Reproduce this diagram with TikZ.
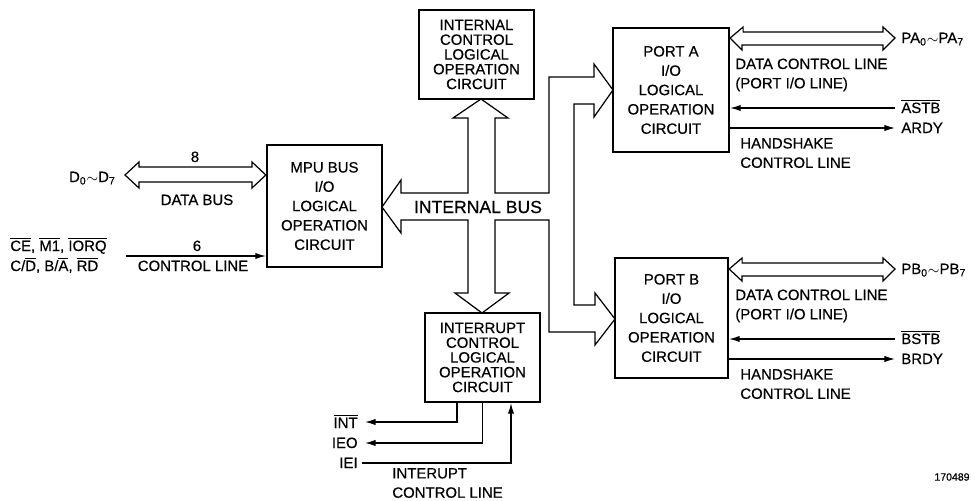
\documentclass[tikz,border=0pt]{standalone}
\usepackage{fontspec}
\setmainfont{Liberation Sans}[FakeBold=0.5]
\usetikzlibrary{arrows.meta}

\newcommand{\ovl}[1]{$\overline{\mbox{#1}}$}
\newcommand{\lo}[1]{\textsubscript{#1}}
\newcommand{\til}{\ensuremath{\sim}}

\tikzset{
  blk/.style={draw, line width=1.3pt, align=center, inner sep=0pt,
    font=\fontsize{8.5}{11}\selectfont},
  tight/.style={font=\fontsize{8.5}{8.4}\selectfont},
  bus/.style={draw, line width=0.7pt, fill=white, line join=miter},
  sig/.style={line width=0.7pt, -{Latex[length=6pt,width=3.6pt]}},
  lbl/.style={inner sep=0pt, font=\fontsize{8.5}{11}\selectfont},
}

\begin{document}
\begin{tikzpicture}[x=0.02cm, y=-0.02cm]
    \useasboundingbox (0,0) rectangle (975,501);

    % Internal bus
    \draw[bus] (468,118) -- (453,118) -- (481,99) -- (508,118) -- (495,118) -- (495,193)
        -- (549,193) -- (549,77) -- (594,77) -- (594,64) -- (613,90) -- (594,117) -- (594,104)
        -- (574,104) -- (574,305) -- (595,305) -- (595,293) -- (615,319) -- (595,345) -- (595,332)
        -- (549,332) -- (549,220) -- (495,220) -- (495,293) -- (509,293) -- (482,313) -- (455,293)
        -- (468,293) -- (468,220) -- (401,220) -- (401,233) -- (382,207) -- (401,180) -- (401,193)
        -- (468,193) -- cycle;
    \node[inner sep=0pt, font=\fontsize{10}{12}\selectfont] (ibus) at (478,207) {INTERNAL BUS};

    % Blocks
    \node[blk, minimum width=2.3cm, minimum height=2.44cm] (mpu) at (324.5,206)
        {MPU BUS\\I/O\\LOGICAL\\OPERATION\\CIRCUIT};
    \node[blk, tight, minimum width=2.3cm, minimum height=1.78cm] (ictl) at (476.5,54.5)
        {INTERNAL\\CONTROL\\LOGICAL\\OPERATION\\CIRCUIT};
    \node[blk, tight, minimum width=2.3cm, minimum height=1.78cm] (intr) at (482.5,357.5)
        {INTERRUPT\\CONTROL\\LOGICAL\\OPERATION\\CIRCUIT};
    \node[blk, minimum width=2.32cm, minimum height=2.48cm] (portA) at (671,90)
        {PORT A\\I/O\\LOGICAL\\OPERATION\\CIRCUIT};
    \node[blk, minimum width=2.26cm, minimum height=2.4cm] (portB) at (671.5,318)
        {PORT B\\I/O\\LOGICAL\\OPERATION\\CIRCUIT};

    % MPU side
    \draw[bus] (125,175) -- (139,162) -- (139,167) -- (252,167) -- (252,162) -- (mpu.west |- 0,175)
        -- (252,188) -- (252,182) -- (139,182) -- (139,188) -- cycle;
    \node[lbl, anchor=base east] (dl) at (116,182) {D\lo{0}\til D\lo{7}};
    \node[lbl, anchor=base] (n8) at (195,162) {8};
    \node[lbl, anchor=base] (dbus) at (197,205) {DATA BUS};
    \coordinate (ctl) at (126,256);
    \draw[sig] (ctl) -- (ctl -| mpu.west);
    \node[lbl, anchor=base] (n6) at (197,251) {6};
    \node[lbl, anchor=base] (cline) at (193,271) {CONTROL LINE};
    \node[lbl, anchor=base west] (cs1) at (10,251) {\ovl{CE}, \ovl{M1}, \ovl{IORQ}};
    \node[lbl, anchor=base west] (cs2) at (10,271) {C/\ovl{D}, B/\ovl{A}, \ovl{RD}};

    % Port lines
    \foreach \p/\dy in {A/0,B/231} {
        \draw[bus] (port\p.east |- 0,38+\dy) -- ++(13,-11) -- ++(0,5) -- (883,32+\dy) -- ++(0,-5)
            -- (895,38+\dy) -- ++(-12,12) -- ++(0,-5) -- (742,45+\dy) -- ++(0,5) -- cycle;
        \node[lbl, anchor=base west] (pl\p) at (901,43+\dy) {P\p\lo{0}\til P\p\lo{7}};
        \node[lbl, anchor=west, align=left] (dcl\p) at (735,75+\dy) {DATA CONTROL LINE\\(PORT I/O LINE)};
        \coordinate (stb\p) at (895,108+\dy);
        \coordinate (rdy\p) at (895,128+\dy);
        \draw[sig] (stb\p) -- (stb\p -| port\p.east);
        \draw[sig] (rdy\p -| port\p.east) -- (rdy\p);
        \node[lbl, anchor=base west] (stbl\p) at (901,113+\dy) {\ovl{\p STB}};
        \node[lbl, anchor=base west] (rdyl\p) at (901,133+\dy) {\p RDY};
        \node[lbl, anchor=west, align=left] (hsk\p) at (740,153+\dy) {HANDSHAKE\\CONTROL LINE};
    }

    % Interrupt lines
    \coordinate (into) at (365,422);
    \coordinate (ieo) at (365,443);
    \coordinate (iei) at (362,463);
    \draw[sig] ([xshift=-0.51cm]intr.south) |- (into);
    \draw[sig] (intr.south) |- (ieo);
    \draw[sig] (iei) -| ([xshift=0.57cm]intr.south);
    \node[lbl, anchor=base east] (intl) at (358,428) {\ovl{INT}};
    \node[lbl, anchor=base east] (ieol) at (358,448) {IEO};
    \node[lbl, anchor=base east] (ieil) at (358,468) {IEI};
    \node[lbl, anchor=west, align=left] (icl) at (392,483) {INTERUPT\\CONTROL LINE};

    \node[inner sep=0pt, font=\fontsize{6}{7}\selectfont] (fig) at (952,477) {170489};
\end{tikzpicture}
\end{document}
